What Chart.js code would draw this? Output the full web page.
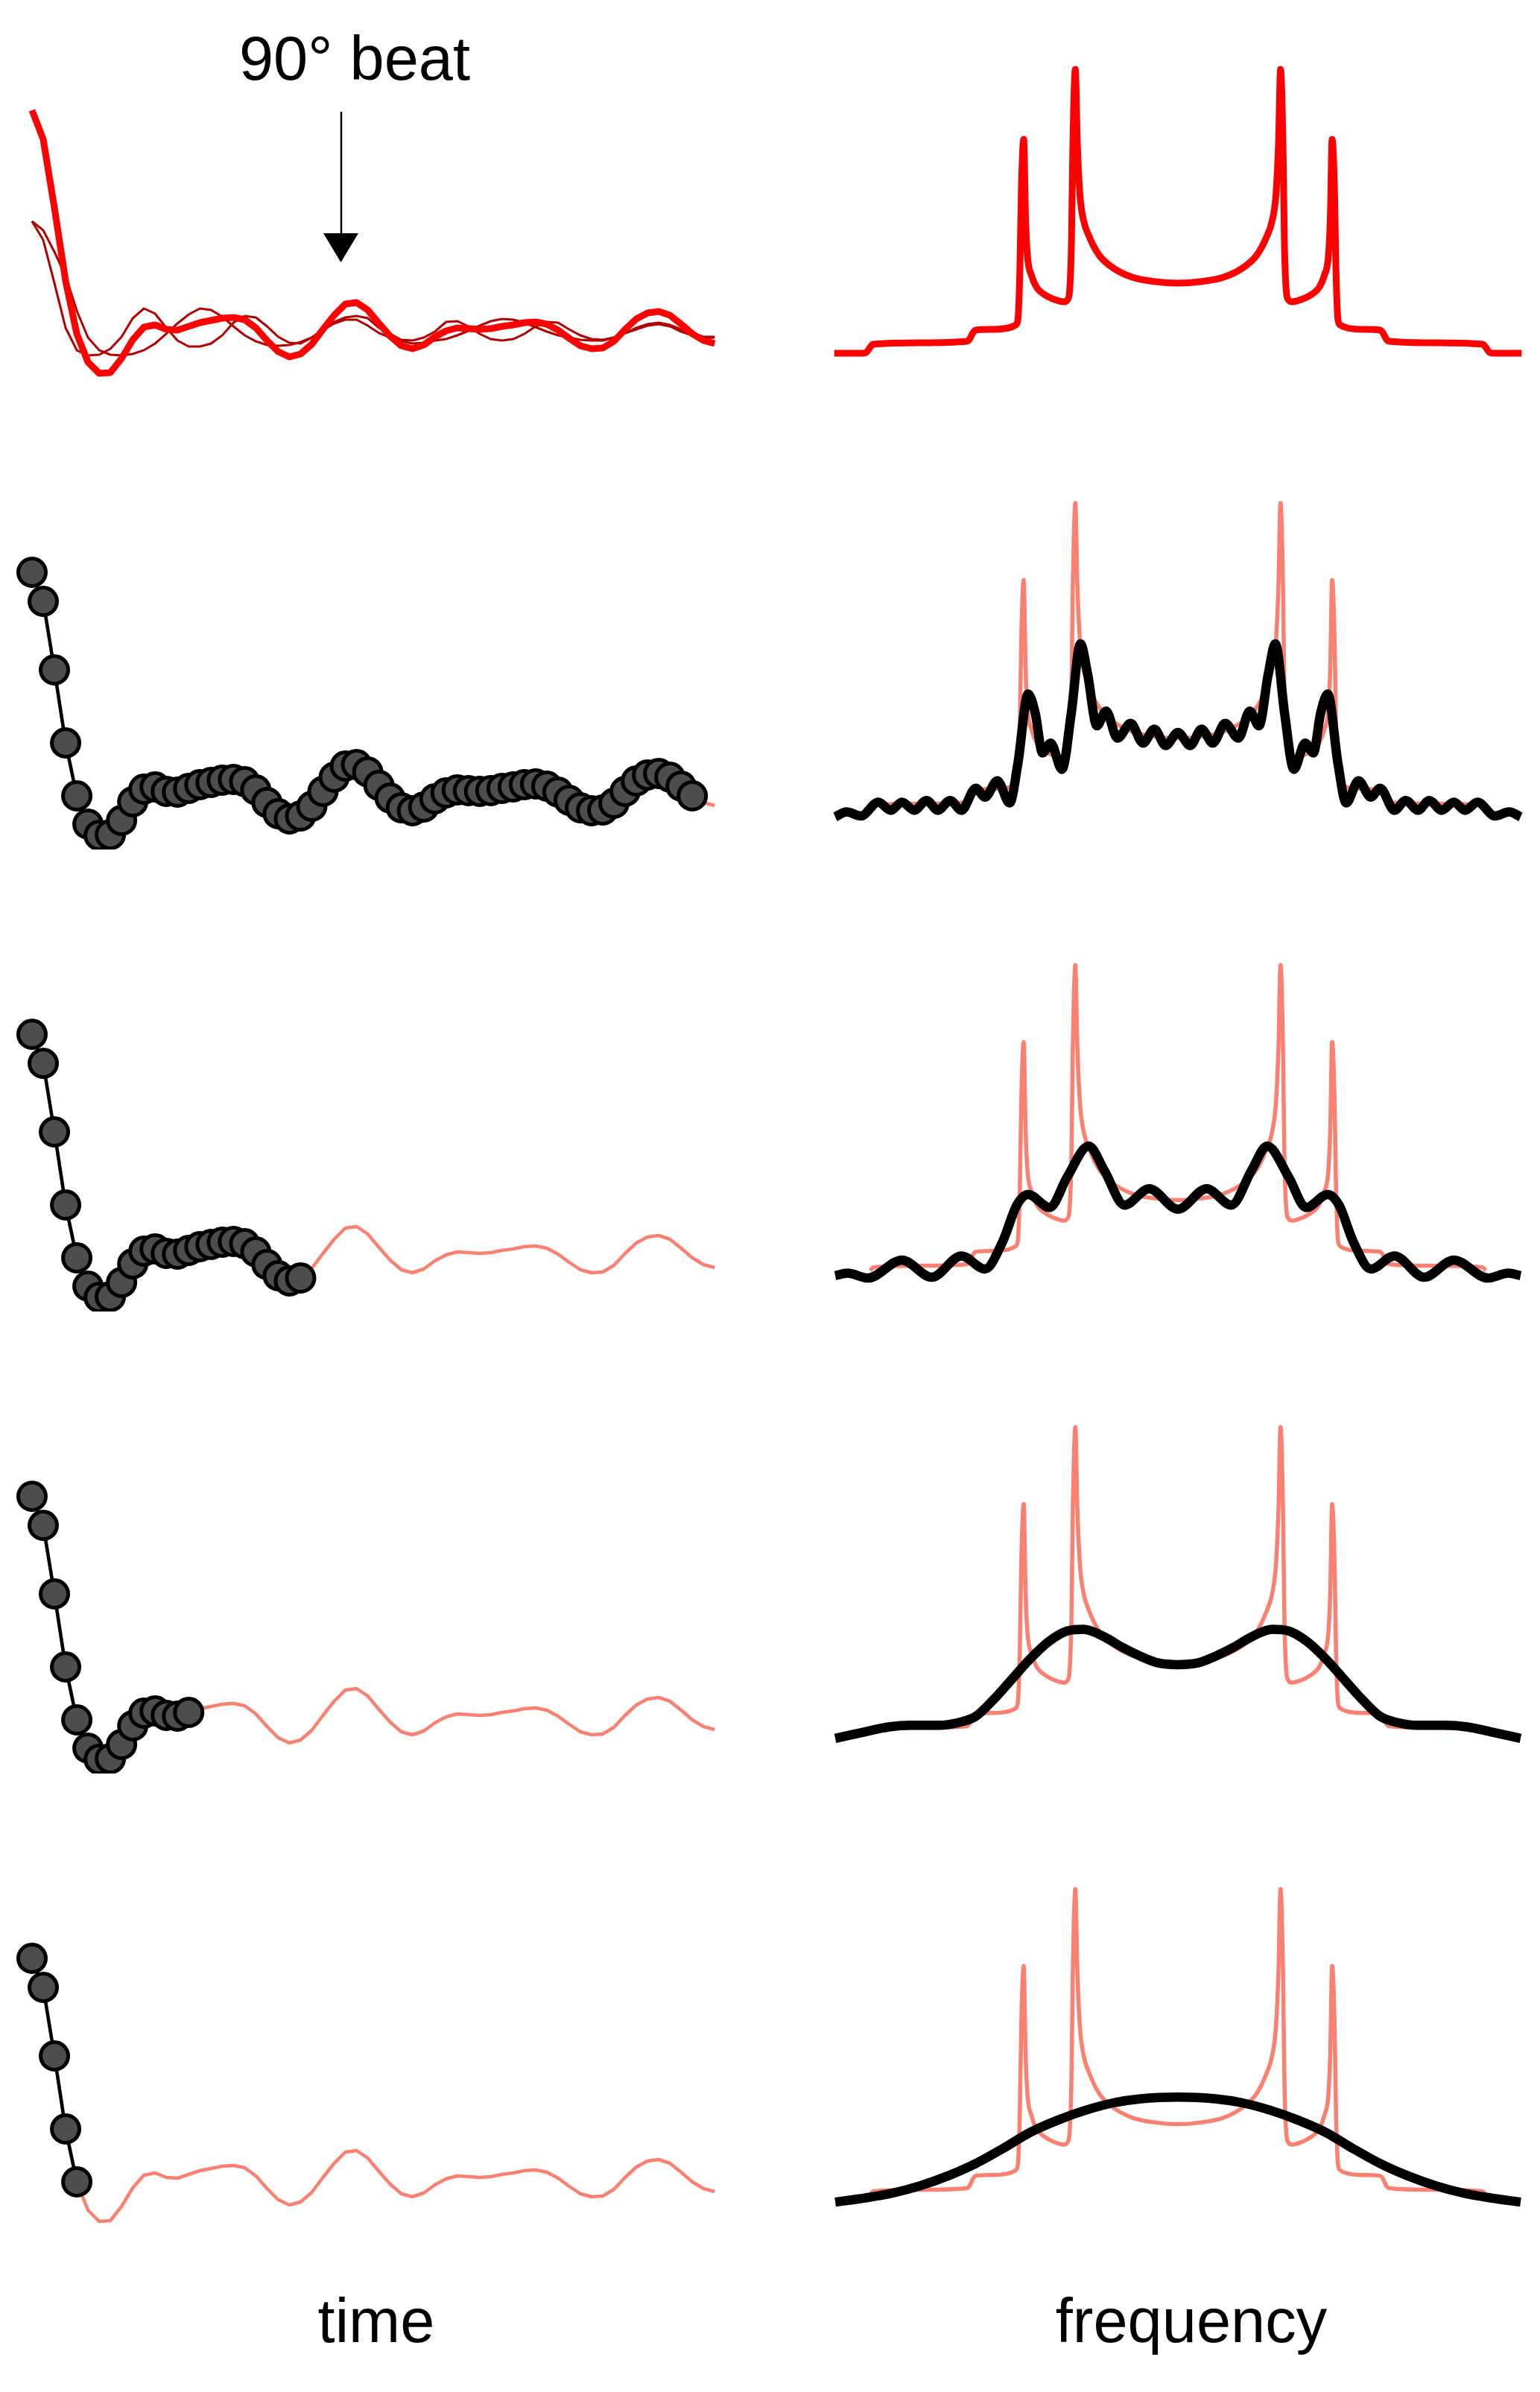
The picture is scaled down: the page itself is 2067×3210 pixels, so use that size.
<!DOCTYPE html>
<html>
<head>
<meta charset="utf-8">
<script src="https://cdn.jsdelivr.net/npm/chart.js@4.4.1/dist/chart.umd.min.js"></script>
<style>
  body { margin: 0; background: #fff; }
  #fig { position: relative; width: 2067px; height: 3210px; overflow: hidden;
         font-family: "Liberation Sans", Arial, Helvetica, sans-serif; }
  #fig canvas { position: absolute; }
  .lbl { position: absolute; width: 600px; text-align: center; font-size: 83px;
         line-height: 83px; color: #000; white-space: nowrap; }
</style>
</head>
<body>
<div id="fig">
  <div class="lbl" style="left:176px; top:37px;">90° beat</div>
  <svg style="position:absolute; left:0; top:0;" width="600" height="400">
    <line x1="458" y1="150" x2="458" y2="316" stroke="#000" stroke-width="2.5"/>
    <polygon points="434,313 481,313 457.5,352" fill="#000"/>
  </svg>
  <div class="lbl" style="left:205px; top:3073px;">time</div>
  <div class="lbl" style="left:1299px; top:3073px;">frequency</div>
</div>
<script>
// time domain: sample number and signal
const SAMPLE = [0, 1, 2, 3, 4, 5, 6, 7, 8, 9, 10, 11, 12, 13, 14, 15, 16, 17, 18, 19,
  20, 21, 22, 23, 24, 25, 26, 27, 28, 29, 30, 31, 32, 33, 34, 35, 36, 37, 38, 39,
  40, 41, 42, 43, 44, 45, 46, 47, 48, 49, 50, 51, 52, 53, 54, 55, 56, 57, 58, 59, 60, 61];
const SIGNAL = [2.92, 2.53, 1.61, 0.63, -0.08, -0.46, -0.61, -0.60, -0.41, -0.16,
  0.01, 0.04, -0.02, -0.03, 0.02, 0.07, 0.10, 0.13, 0.14, 0.11,
  0.00, -0.17, -0.32, -0.39, -0.35, -0.22, -0.02, 0.17, 0.32, 0.34,
  0.24, 0.06, -0.11, -0.24, -0.28, -0.23, -0.12, -0.04, 0.00, -0.01,
  -0.02, -0.01, 0.02, 0.04, 0.07, 0.08, 0.05, -0.03, -0.14, -0.24,
  -0.28, -0.27, -0.18, -0.02, 0.12, 0.20, 0.22, 0.17, 0.05, -0.08,
  -0.17, -0.21];
const SIGNAL_A = [1.43, 1.18, 0.60, 0.00, -0.30, -0.37, -0.36, -0.28, -0.12, 0.13,
  0.26, 0.19, 0.00, -0.17, -0.25, -0.25, -0.21, -0.10, 0.07, 0.16,
  0.14, 0.02, -0.12, -0.20, -0.21, -0.13, -0.02, 0.08, 0.14, 0.16,
  0.13, 0.00, -0.08, -0.16, -0.17, -0.13, -0.05, 0.08, 0.09, 0.02,
  -0.08, -0.15, -0.17, -0.15, -0.08, 0.02, 0.08, 0.07, -0.02, -0.10,
  -0.15, -0.16, -0.13, -0.07, 0.00, 0.05, 0.07, 0.04, -0.02, -0.07,
  -0.12, -0.12];
const SIGNAL_B = [1.43, 1.31, 1.02, 0.70, 0.23, -0.13, -0.30, -0.36, -0.37, -0.35,
  -0.30, -0.21, -0.08, 0.06, 0.18, 0.26, 0.24, 0.15, 0.02, -0.10,
  -0.18, -0.23, -0.24, -0.23, -0.19, -0.13, -0.03, 0.06, 0.11, 0.11,
  0.03, -0.07, -0.13, -0.18, -0.21, -0.20, -0.17, -0.15, -0.10, -0.04,
  0.03, 0.09, 0.12, 0.11, 0.07, 0.01, -0.05, -0.10, -0.13, -0.16,
  -0.17, -0.17, -0.13, -0.07, -0.02, 0.03, 0.05, 0.02, -0.05, -0.10,
  -0.14, -0.13];
const DOTS_SHOWN = [60, 25, 15, 5];

// frequency domain: full spectrum
const FREQ = [-3.35, -3.07, -3.03, -3.00, -2.97, -2.50, -2.06, -2.03, -2.00, -1.97,
  -1.80, -1.65, -1.58, -1.56, -1.54, -1.527, -1.503, -1.485, -1.467, -1.426,
  -1.38, -1.28, -1.18, -1.11, -1.075, -1.055, -1.038, -1.024, -1.00, -0.98,
  -0.956, -0.924, -0.857, -0.765, -0.627, -0.445, -0.218, 0,
  0.218, 0.445, 0.627, 0.765, 0.857, 0.924, 0.956, 0.98, 1.00, 1.024,
  1.038, 1.055, 1.075, 1.11, 1.18, 1.28, 1.38, 1.426, 1.467, 1.485,
  1.503, 1.527, 1.54, 1.56, 1.58, 1.65, 1.80, 1.97, 2.00, 2.03,
  2.06, 2.50, 2.97, 3.00, 3.03, 3.07, 3.35];
const SPECTRUM = [0, 0, 0.02, 0.08, 0.12, 0.14, 0.16, 0.19, 0.27, 0.31,
  0.32, 0.34, 0.38, 0.45, 1.14, 2.14, 2.87, 1.81, 1.31, 1.04,
  0.89, 0.77, 0.71, 0.69, 0.72, 0.85, 1.47, 2.81, 3.81, 2.81,
  2.14, 1.81, 1.54, 1.31, 1.14, 1.02, 0.96, 0.94,
  0.96, 1.02, 1.14, 1.31, 1.54, 1.81, 2.14, 2.81, 3.81, 2.81,
  1.47, 0.85, 0.72, 0.69, 0.71, 0.77, 0.89, 1.04, 1.31, 1.81,
  2.87, 2.14, 1.14, 0.45, 0.38, 0.34, 0.32, 0.31, 0.27, 0.19,
  0.16, 0.14, 0.12, 0.08, 0.02, 0, 0];

// truncated signals, spectra
const FREQ_60 = [-3.34, -3.23, -3.09, -2.92, -2.80, -2.69, -2.57, -2.45, -2.34, -2.22,
  -2.11, -1.97, -1.88, -1.76, -1.64, -1.56, -1.46, -1.39, -1.32, -1.24,
  -1.13, -1.04, -0.95, -0.88, -0.79, -0.70, -0.59, -0.46, -0.34, -0.23, -0.12, 0,
  0.12, 0.23, 0.34, 0.46, 0.59, 0.70, 0.79, 0.88, 0.95, 1.04,
  1.13, 1.24, 1.32, 1.39, 1.46, 1.56, 1.64, 1.76, 1.88, 1.97,
  2.11, 2.22, 2.34, 2.45, 2.57, 2.69, 2.80, 2.92, 3.09, 3.23, 3.34];
const SPEC_60 = [-0.02, 0.04, -0.01, 0.16, 0.06, 0.16, 0.06, 0.18, 0.06, 0.18,
  0.06, 0.33, 0.22, 0.42, 0.15, 0.63, 1.48, 1.24, 0.76, 0.88,
  0.56, 1.24, 2.09, 1.72, 1.09, 1.27, 0.94, 1.12, 0.88, 1.05, 0.85, 1.01,
  0.85, 1.05, 0.88, 1.12, 0.94, 1.27, 1.09, 1.72, 2.09, 1.24,
  0.56, 0.88, 0.76, 1.24, 1.48, 0.63, 0.15, 0.42, 0.22, 0.33,
  0.06, 0.18, 0.06, 0.18, 0.06, 0.16, 0.06, 0.16, -0.01, 0.04, -0.02];

const FREQ_25 = [-3.34, -3.22, -3.02, -2.69, -2.40, -2.11, -1.88, -1.71, -1.57, -1.46,
  -1.25, -1.08, -0.87, -0.72, -0.52, -0.28, 0,
  0.28, 0.52, 0.72, 0.87, 1.08, 1.25, 1.46, 1.57, 1.71, 1.88,
  2.11, 2.40, 2.69, 3.02, 3.22, 3.34];
const SPEC_25 = [0.02, 0.05, -0.01, 0.21, 0.00, 0.26, 0.10, 0.43, 0.88, 1.01,
  0.85, 1.22, 1.60, 1.31, 0.88, 1.08, 0.83,
  1.08, 0.88, 1.31, 1.60, 1.22, 0.85, 1.01, 0.88, 0.43, 0.10,
  0.26, 0.00, 0.21, -0.01, 0.05, 0.02];

const FREQ_15 = [-3.34, -3.05, -2.82, -2.60, -2.33, -2.15, -1.97, -1.80, -1.62, -1.44,
  -1.26, -1.08, -0.92, -0.72, -0.54, -0.36, -0.19, 0,
  0.19, 0.36, 0.54, 0.72, 0.92, 1.08, 1.26, 1.44, 1.62, 1.80,
  1.97, 2.15, 2.33, 2.60, 2.82, 3.05, 3.34];
const SPEC_15 = [0.01, 0.09, 0.15, 0.17, 0.17, 0.20, 0.28, 0.48, 0.73, 0.98,
  1.19, 1.32, 1.34, 1.25, 1.12, 1.01, 0.93, 0.91,
  0.93, 1.01, 1.12, 1.25, 1.34, 1.32, 1.19, 0.98, 0.73, 0.48,
  0.28, 0.20, 0.17, 0.17, 0.15, 0.09, 0.01];

const FREQ_5 = [-3.34, -3.05, -2.78, -2.51, -2.24, -1.97, -1.71, -1.44, -1.17, -0.90,
  -0.63, -0.36, 0, 0.36, 0.63, 0.90, 1.17, 1.44, 1.71, 1.97,
  2.24, 2.51, 2.78, 3.05, 3.34];
const SPEC_5 = [-0.01, 0.04, 0.10, 0.19, 0.31, 0.46, 0.64, 0.84, 0.99, 1.11,
  1.20, 1.25, 1.27, 1.25, 1.20, 1.11, 0.99, 0.84, 0.64, 0.46,
  0.31, 0.19, 0.10, 0.04, -0.01];

const TRUNC_FREQ = [FREQ_60, FREQ_25, FREQ_15, FREQ_5];
const TRUNC_SPEC = [SPEC_60, SPEC_25, SPEC_15, SPEC_5];

const RED = '#ff0000';
const DARK_RED = '#b00000';
const SALMON = '#fa8072';

function pts(xs, ys) {
  return xs.map((x, i) => ({ x: x, y: ys[i] }));
}

function panel(left, top, width, height, xr, yr, datasets) {
  const c = document.createElement('canvas');
  c.width = width;
  c.height = height;
  c.style.left = left + 'px';
  c.style.top = top + 'px';
  document.getElementById('fig').appendChild(c);
  new Chart(c.getContext('2d'), {
    type: 'line',
    data: { datasets: datasets },
    options: {
      responsive: false,
      animation: false,
      devicePixelRatio: 1,
      // no auto inset: the scales must fill the whole canvas
      layout: { padding: 0, autoPadding: false },
      plugins: { legend: { display: false }, tooltip: { enabled: false } },
      elements: { point: { radius: 0, hoverRadius: 0 } },
      scales: {
        x: { type: 'linear', display: false, min: xr[0], max: xr[1] },
        y: { type: 'linear', display: false, min: yr[0], max: yr[1] }
      }
    }
  });
}

const ROW_STEP = 620;
const TIME_X = [-2.863, 63.714];
const FREQ_X = [-3.493, 3.529];

// row 1, time: full signal plus two components
panel(0, 100, 1000, 420, TIME_X, [-0.8, 3.4], [
  { data: pts(SAMPLE, SIGNAL), borderColor: RED, borderWidth: 9, tension: 0,
    borderJoinStyle: 'round', pointRadius: 0, clip: false },
  { data: pts(SAMPLE, SIGNAL_A), borderColor: DARK_RED, borderWidth: 3, tension: 0,
    pointRadius: 0, clip: false },
  { data: pts(SAMPLE, SIGNAL_B), borderColor: DARK_RED, borderWidth: 3, tension: 0,
    pointRadius: 0, clip: false }
]);

// row 1, frequency
panel(1100, 44, 967, 470, FREQ_X, [-0.4, 4.3], [
  { data: pts(FREQ, SPECTRUM), borderColor: RED, borderWidth: 9,
    cubicInterpolationMode: 'monotone', borderJoinStyle: 'round', pointRadius: 0, clip: false }
]);

// rows 2-5: sampled points and their spectra
const salmonSpec = pts(FREQ, SPECTRUM).filter(p => Math.abs(p.x) <= 3.0);
DOTS_SHOWN.forEach((n, r) => {
  const tTop = 100 + ROW_STEP * (r + 1);
  panel(0, tTop, 1000, 420, TIME_X, [-0.8, 3.4], [
    { data: pts(SAMPLE.slice(0, n), SIGNAL.slice(0, n)), borderColor: '#000', borderWidth: 4.5,
      tension: 0, pointRadius: 18.5, pointBackgroundColor: '#4d4d4d', pointBorderColor: '#000',
      pointBorderWidth: 5, clip: false },
    { data: pts(SAMPLE, SIGNAL), borderColor: SALMON, borderWidth: 4.5, tension: 0,
      borderJoinStyle: 'round', pointRadius: 0, clip: false }
  ]);
  const fTop = 474 + ROW_STEP * (r + 1) - 473;
  panel(1100, fTop, 967, 517, FREQ_X, [-0.4, 4.3], [
    { data: pts(TRUNC_FREQ[r], TRUNC_SPEC[r]), borderColor: '#000', borderWidth: 12.5,
      cubicInterpolationMode: 'monotone', borderJoinStyle: 'round', pointRadius: 0, clip: false },
    { data: salmonSpec, borderColor: SALMON, borderWidth: 5.5,
      cubicInterpolationMode: 'monotone', borderJoinStyle: 'round', pointRadius: 0, clip: false }
  ]);
});
</script>
</body>
</html>
